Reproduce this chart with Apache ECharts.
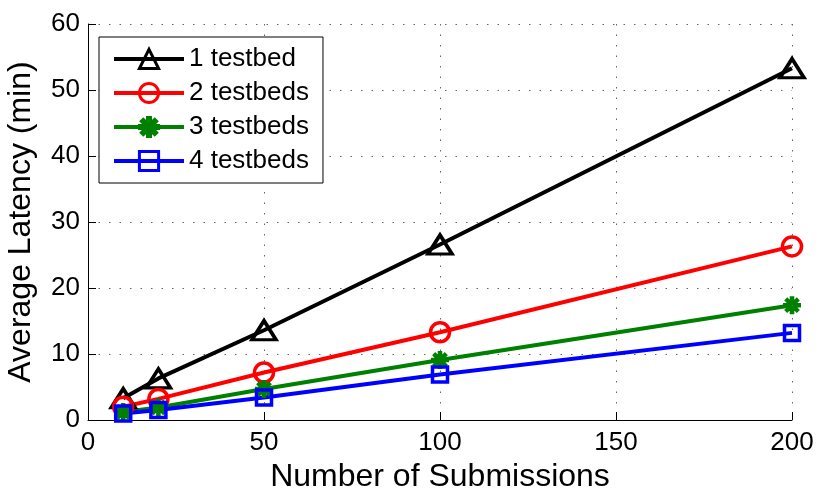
<!DOCTYPE html>
<html>
<head>
<meta charset="utf-8">
<script src="https://cdn.jsdelivr.net/npm/echarts@6/dist/echarts.min.js"></script>
<style>
html,body{margin:0;padding:0;background:#fff;}
#chart{width:830px;height:499px;}
</style>
</head>
<body>
<div id="chart"></div>
<script>
var submissions = [10, 20, 50, 100, 200];
var seriesNames = ['1 testbed', '2 testbeds', '3 testbeds', '4 testbeds'];
var testbed1 = [3.3, 6.3, 13.6, 26.6, 53.3];
var testbed2 = [2.0, 3.2, 7.2, 13.3, 26.3];
var testbed3 = [1.2, 1.9, 4.7, 9.1, 17.4];
var testbed4 = [1.0, 1.5, 3.4, 6.9, 13.2];
var xTicks = [0, 50, 100, 150, 200];
var yTicks = [0, 10, 20, 30, 40, 50, 60];

var FONT = "'Liberation Sans', Arial, Helvetica, sans-serif";
var asterisk = 'path://M-1.6,-10L1.6,-10L1.6,10L-1.6,10Z' +
  'M-10,-1.6L10,-1.6L10,1.6L-10,1.6Z' +
  'M-8.06,-5.94L5.94,8.06L8.06,5.94L-5.94,-8.06Z' +
  'M-5.94,8.06L8.06,-5.94L5.94,-8.06L-8.06,5.94Z';

function pairs(ys) {
  return submissions.map(function (x, i) { return [x, ys[i]]; });
}

var chart = echarts.init(document.getElementById('chart'), null, {renderer: 'canvas'});

function mkSeries(name, ys, color, symbol, size, fill, bw) {
  return {
    name: name,
    type: 'line',
    data: pairs(ys),
    symbol: symbol,
    symbolSize: size,
    showAllSymbol: true,
    lineStyle: {color: color, width: 4},
    itemStyle: {color: fill, borderColor: color, borderWidth: bw},
    emphasis: {disabled: true},
    z: 3
  };
}

var option = {
  animation: false,
  backgroundColor: '#fff',
  textStyle: {fontFamily: FONT},
  grid: {left: 88, right: 38, top: 24, bottom: 79, containLabel: false, outerBoundsMode: 'none'},
  legend: {
    orient: 'vertical',
    left: 99,
    top: 37,
    data: seriesNames,
    itemWidth: 70,
    itemHeight: 24,
    itemGap: 8,
    padding: [9, 14, 9, 13],
    backgroundColor: '#fff',
    borderColor: '#000',
    borderWidth: 1,
    borderRadius: 0,
    lineStyle: {width: 4},
    itemStyle: {borderWidth: 3},
    textStyle: {fontSize: 26, lineHeight: 26, color: '#000', fontFamily: FONT}
  },
  xAxis: {
    type: 'value',
    min: xTicks[0],
    max: xTicks[xTicks.length - 1],
    interval: 50,
    name: 'Number of Submissions',
    nameLocation: 'middle',
    nameGap: 38,
    nameTextStyle: {fontSize: 32, color: '#000', fontFamily: FONT},
    axisLine: {show: true, onZero: false, lineStyle: {color: '#000', width: 1}},
    axisTick: {show: true, inside: true, length: 8, lineStyle: {color: '#000'}},
    axisLabel: {fontSize: 26, color: '#000', margin: 10, fontFamily: FONT},
    splitLine: {show: true, lineStyle: {color: '#666', width: 1, type: [1.5, 9]}}
  },
  yAxis: {
    type: 'value',
    min: yTicks[0],
    max: yTicks[yTicks.length - 1],
    interval: 10,
    name: 'Average Latency (min)',
    nameLocation: 'middle',
    nameGap: 51,
    nameTextStyle: {fontSize: 32, color: '#000', fontFamily: FONT},
    axisLine: {show: true, onZero: false, lineStyle: {color: '#000', width: 1}},
    axisTick: {show: true, inside: true, length: 8, lineStyle: {color: '#000'}},
    axisLabel: {fontSize: 26, color: '#000', margin: 8, fontFamily: FONT},
    splitLine: {show: true, lineStyle: {color: '#666', width: 1, type: [1.5, 9]}}
  },
  series: [
    mkSeries(seriesNames[0], testbed1, '#000000', 'triangle', [24, 19], 'rgba(255,255,255,0)', 3.5),
    mkSeries(seriesNames[1], testbed2, '#ff0000', 'circle', 19, 'rgba(255,255,255,0)', 3.5),
    mkSeries(seriesNames[2], testbed3, '#008000', asterisk, 16, '#008000', 2),
    mkSeries(seriesNames[3], testbed4, '#0000ff', 'rect', 15, 'rgba(255,255,255,0)', 3.5)
  ]
};
chart.setOption(option);
</script>
</body>
</html>
